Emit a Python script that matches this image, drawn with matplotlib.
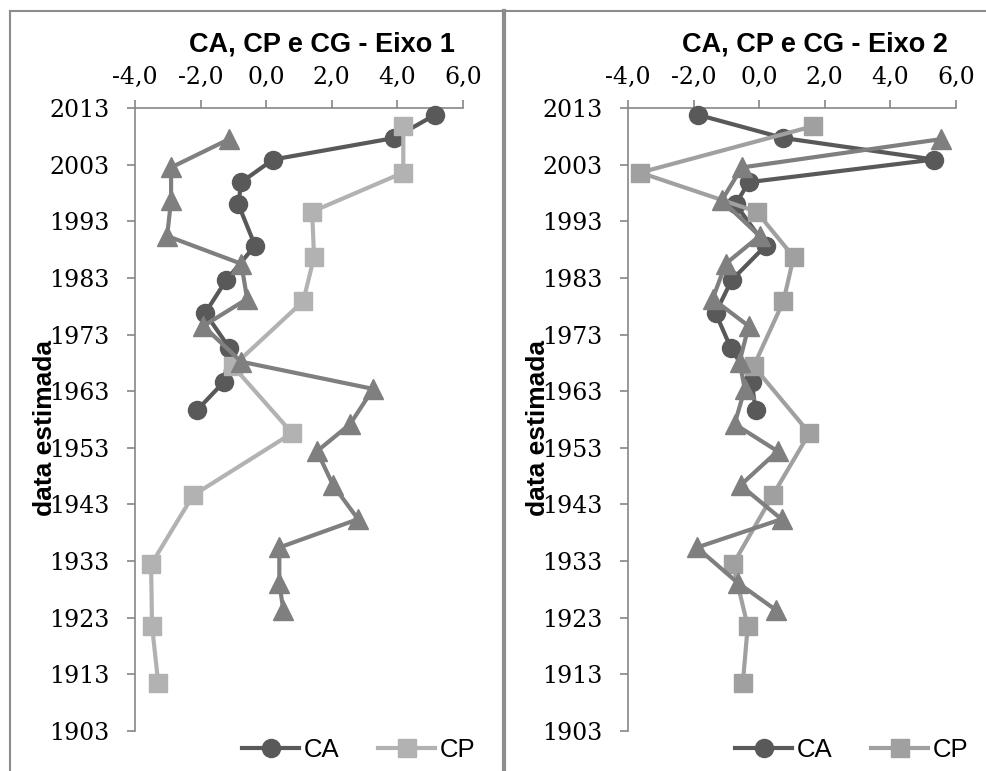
import matplotlib
matplotlib.use("Agg")
import matplotlib.pyplot as plt
from matplotlib.lines import Line2D

# ---------------- data ----------------
years_ca = [2011.8, 2007.7, 2003.9, 1999.9, 1996.0, 1988.7, 1982.6, 1976.8, 1970.7, 1964.7, 1959.7]
years_cp = [2009.8, 2001.6, 1994.7, 1986.7, 1978.9, 1967.4, 1955.6, 1944.6, 1932.4, 1921.5, 1911.4]
years_cg = [2007.5, 2002.5, 1996.7, 1990.4, 1985.5, 1979.3, 1974.5, 1968.2, 1963.4, 1957.2,
            1952.4, 1946.4, 1940.4, 1935.4, 1929.2, 1924.4]

ca_eixo1 = [5.15, 3.90, 0.21, -0.76, -0.85, -0.34, -1.22, -1.86, -1.13, -1.28, -2.10]
cp_eixo1 = [4.18, 4.18, 1.40, 1.46, 1.13, -1.01, 0.79, -2.23, -3.51, -3.48, -3.29]
cg_eixo1 = [-1.13, -2.90, -2.90, -3.02, -0.76, -0.58, -1.92, -0.76, 3.26, 2.56,
            1.55, 2.04, 2.80, 0.40, 0.40, 0.52]

ca_eixo2 = [-1.87, 0.74, 5.33, -0.32, -0.72, 0.20, -0.84, -1.33, -0.87, -0.23, -0.11]
cp_eixo2 = [1.65, -3.63, -0.08, 1.05, 0.74, -0.17, 1.53, 0.41, -0.80, -0.35, -0.50]
cg_eixo2 = [5.54, -0.53, -1.14, 0.01, -1.02, -1.42, -0.32, -0.60, -0.44, -0.75,
            0.56, -0.57, 0.68, -1.90, -0.66, 0.50]

x_ticks = [-4, -2, 0, 2, 4, 6]
x_tick_labels = ["-4,0", "-2,0", "0,0", "2,0", "4,0", "6,0"]
y_ticks = [1903, 1913, 1923, 1933, 1943, 1953, 1963, 1973, 1983, 1993, 2003, 2013]
titles = ["CA, CP e CG - Eixo 1", "CA, CP e CG - Eixo 2"]
series_names = ["CA", "CP", "CG"]
y_label = "data estimada"

# ---------------- figure ----------------
W, H = 986, 771
fig = plt.figure(figsize=(W / 100, H / 100), dpi=100)
fig.patch.set_facecolor("white")

def fx(px):
    return px / W

def fy(py):
    return 1 - py / H

axis_gray = "#868686"
col_ca = "#595959"
col_cg = "#7f7f7f"
cp_cols = ["#b2b2b2", "#a0a0a0"]

panels = [
    (0, ca_eixo1, cp_eixo1, cg_eixo1),
    (493, ca_eixo2, cp_eixo2, cg_eixo2),
]

for i, (off, ca, cp, cg) in enumerate(panels):
    ax = fig.add_axes([fx(135 + off), fy(731), fx(328), 623 / H])
    l_ca, = ax.plot(ca, years_ca, color=col_ca, lw=3, marker="o", ms=13,
                    label=series_names[0], zorder=3)
    l_cp, = ax.plot(cp, years_cp, color=cp_cols[i], lw=3, marker="s", ms=12.5,
                    label=series_names[1], zorder=4)
    l_cg, = ax.plot(cg, years_cg, color=col_cg, lw=3, marker="^", ms=14,
                    label=series_names[2], zorder=5)
    ax.set_xlim(-4, 6)
    ax.set_ylim(1903, 2013)
    ax.set_xticks(x_ticks)
    ax.set_xticklabels(x_tick_labels)
    ax.set_yticks(y_ticks)
    ax.set_yticklabels([str(y) for y in y_ticks])
    ax.xaxis.tick_top()
    for s in ["bottom", "right"]:
        ax.spines[s].set_visible(False)
    for s in ["top", "left"]:
        ax.spines[s].set_color(axis_gray)
        ax.spines[s].set_linewidth(1.2)
    ax.tick_params(axis="both", direction="out", color=axis_gray, length=5.5, width=1.2,
                   labelsize=17, labelcolor="black")
    ax.tick_params(axis="y", pad=13)
    ax.tick_params(axis="x", pad=8)
    for lab in ax.get_xticklabels() + ax.get_yticklabels():
        lab.set_family("DejaVu Serif")
    for ln in (l_ca, l_cp, l_cg):
        ln.set_clip_on(False)

    # title
    fig.text(fx(322 + off), fy(44), titles[i], ha="center", va="center",
             fontsize=19.5, fontweight="bold", family="Liberation Sans")
    # y label
    fig.text(fx(45 + off), fy(428), y_label, ha="center", va="center", rotation=90,
             fontsize=19, fontweight="bold", family="Liberation Sans")
    # legend (CA, CP)
    fig.legend(handles=[l_ca, l_cp], loc="center", bbox_to_anchor=(fx(359 + off), fy(750)),
               ncol=2, frameon=False, handlelength=2.2, handletextpad=0.2,
               columnspacing=1.5, borderpad=0, borderaxespad=0,
               prop={"family": "Liberation Sans", "size": 18.5})

# chart borders
lw_b = 1.5
fig.add_artist(Line2D([fx(10), fx(986)], [fy(10.5), fy(10.5)], color="#8c8c8c", lw=lw_b))
fig.add_artist(Line2D([fx(9.5), fx(9.5)], [fy(10.5), 0], color="#8c8c8c", lw=lw_b))
fig.add_artist(Line2D([fx(504), fx(504)], [fy(10.5), 0], color="#8c8c8c", lw=3))

fig.savefig("out.png", dpi=100, facecolor="white")
